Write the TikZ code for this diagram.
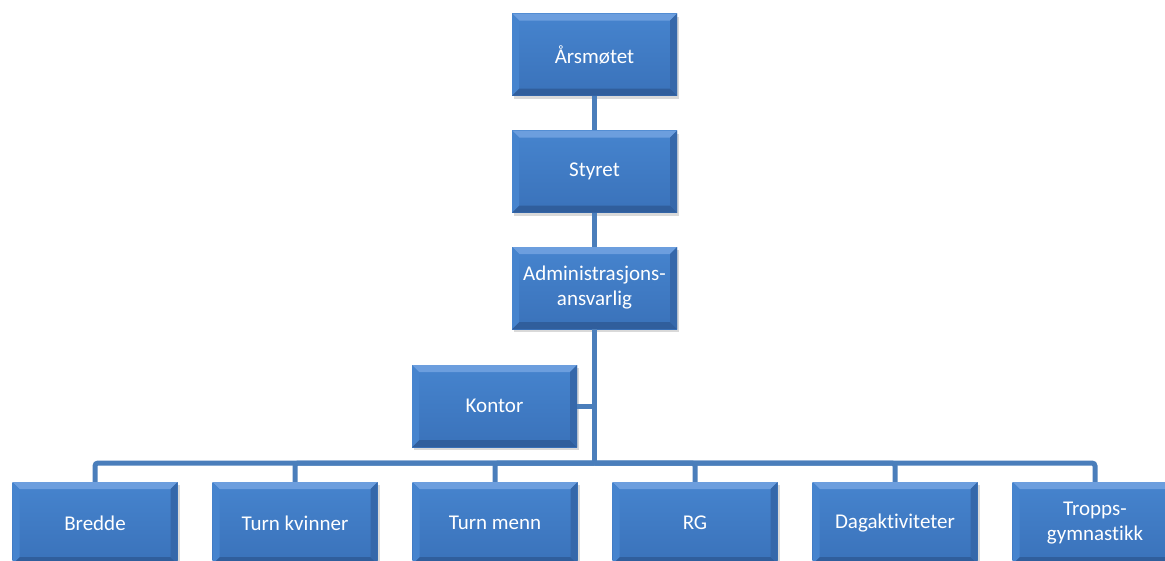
\documentclass[tikz,border=0pt]{standalone}
\usepackage{fontspec}
\setmainfont{Carlito}[Ligatures=NoCommon]
\usetikzlibrary{shadows}
\definecolor{boxtop}{RGB}{70,132,206}
\definecolor{boxbot}{RGB}{58,114,186}
\definecolor{bevlight}{RGB}{108,158,222}
\definecolor{bevdark}{RGB}{48,94,156}
\definecolor{bevside}{RGB}{54,104,170}
\definecolor{linkblue}{RGB}{74,126,187}
\begin{document}
\begin{tikzpicture}[x=1pt, y=-1pt,
    box/.style={rectangle, minimum width=165pt, minimum height=82pt, inner sep=0pt,
      top color=boxtop, bottom color=boxbot, text=white, align=center,
      font=\fontsize{21}{25}\selectfont,
      drop shadow={opacity=0.3, shadow xshift=2pt, shadow yshift=-3pt},
      path picture={
        \fill[bevlight] (path picture bounding box.north west) -- (path picture bounding box.north east)
          -- ([xshift=-7pt,yshift=-7pt]path picture bounding box.north east)
          -- ([xshift=7pt,yshift=-7pt]path picture bounding box.north west) -- cycle;
        \fill[bevdark] (path picture bounding box.south west) -- (path picture bounding box.south east)
          -- ([xshift=-7pt,yshift=7pt]path picture bounding box.south east)
          -- ([xshift=7pt,yshift=7pt]path picture bounding box.south west) -- cycle;
        \fill[bevside] (path picture bounding box.north east) -- (path picture bounding box.south east)
          -- ([xshift=-7pt,yshift=7pt]path picture bounding box.south east)
          -- ([xshift=-7pt,yshift=-7pt]path picture bounding box.north east) -- cycle;
        \fill[boxtop] (path picture bounding box.north west) -- (path picture bounding box.south west)
          -- ([xshift=7pt,yshift=7pt]path picture bounding box.south west)
          -- ([xshift=7pt,yshift=-7pt]path picture bounding box.north west) -- cycle;
      }},
    link/.style={draw=linkblue, line width=5pt}]
  \useasboundingbox (0,0) rectangle (1165,560);
  % upper chain
  \node[box] (org0) at (594.5,54.5){Årsmøtet};
  \node[box] (org1) at (594.5,171.5){Styret};
  \node[box] (org2) at (594.5,288){Administrasjons-\\ansvarlig};
  \node[box] (org3) at (494.5,406){Kontor};
  \coordinate (bus) at (594.5,463);
  % sections
  \node[box] (sec0) at (95,523){Bredde};
  \node[box] (sec1) at (295,523){Turn kvinner};
  \node[box] (sec2) at (495,523){Turn menn};
  \node[box] (sec3) at (695,523){RG};
  \node[box] (sec4) at (895,523){Dagaktiviteter};
  \node[box] (sec5) at (1095,523){Tropps-\\gymnastikk};
  % connectors
  \draw[link](org0) -- (org1);
  \draw[link](org1) -- (org2);
  \draw[link](org2) -- (bus);
  \draw[link](org3.east) -- (org3.east -| bus);
  \draw[link, rounded corners=3pt](bus) -| (sec0.north);
  \draw[link, rounded corners=3pt](bus) -| (sec1.north);
  \draw[link, rounded corners=3pt](bus) -| (sec2.north);
  \draw[link, rounded corners=3pt](bus) -| (sec3.north);
  \draw[link, rounded corners=3pt](bus) -| (sec4.north);
  \draw[link, rounded corners=3pt](bus) -| (sec5.north);
\end{tikzpicture}
\end{document}
